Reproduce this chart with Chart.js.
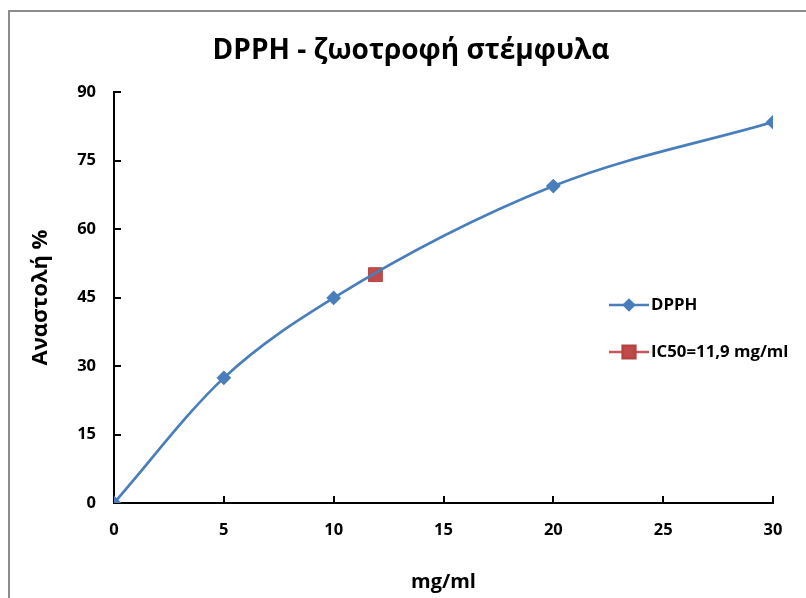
<!DOCTYPE html>
<html>
<head>
<meta charset="utf-8">
<script src="https://cdn.jsdelivr.net/npm/chart.js@4.4.1/dist/chart.umd.min.js"></script>
<style>
  html, body { margin: 0; padding: 0; background: #fff; }
  canvas { display: block; }
</style>
</head>
<body>
<canvas id="dpphChart" width="806" height="598"></canvas>
<script>
const concentrations = [0, 5, 10, 20, 30];
const inhibition = [0, 27.4, 44.9, 69.4, 83.4];
const ic50X = [11.9];
const ic50Y = [50];
const seriesNames = ["DPPH", "IC50=11,9 mg/ml"];
const chartTitle = "DPPH - ζωοτροφή στέμφυλα";

const FONT = "'Open Sans', 'Noto Sans', sans-serif";
const BLUE = "#4a7ebb";
const RED = "#be4b48";

const ctx = document.getElementById("dpphChart").getContext("2d");

/* grey frame round the chart (top and left edges visible) + title */
const framePlugin = {
  id: "frame",
  beforeDraw(chart) {
    const c = chart.ctx;
    c.save();
    c.fillStyle = "#fff";
    c.fillRect(0, 0, chart.width, chart.height);
    c.strokeStyle = "#8c8c8c";
    c.lineWidth = 2;
    c.beginPath();
    c.moveTo(9, chart.height);
    c.lineTo(9, 11);
    c.lineTo(chart.width, 11);
    c.stroke();
    c.fillStyle = "#000";
    c.font = "bold 28px " + FONT;
    c.textAlign = "center";
    c.textBaseline = "middle";
    c.fillText(chartTitle, 411, 51);
    c.restore();
  }
};

/* Excel style tick marks, pointing into the plot */
const innerTicks = {
  id: "innerTicks",
  beforeDatasetsDraw(chart) {
    const c = chart.ctx;
    const { x, y } = chart.scales;
    c.save();
    c.strokeStyle = "#000";
    c.lineWidth = 2;
    c.beginPath();
    y.ticks.forEach(t => {
      const py = Math.round(y.getPixelForValue(t.value));
      c.moveTo(x.left, py);
      c.lineTo(x.left + 7, py);
    });
    x.ticks.forEach(t => {
      const px = Math.round(x.getPixelForValue(t.value));
      c.moveTo(px, y.bottom);
      c.lineTo(px, y.bottom - 7);
    });
    c.stroke();
    c.restore();
  }
};

/* legend inside the plot: line with marker, then the label */
const insideLegend = {
  id: "insideLegend",
  afterDraw(chart) {
    const c = chart.ctx;
    const rows = [305, 352];
    c.save();
    chart.data.datasets.forEach((ds, i) => {
      const yy = rows[i];
      c.strokeStyle = ds.legendLine;
      c.lineWidth = 2.5;
      c.beginPath();
      c.moveTo(609, yy);
      c.lineTo(649, yy);
      c.stroke();
      c.fillStyle = ds.pointBackgroundColor;
      c.strokeStyle = ds.pointBorderColor;
      Chart.helpers.drawPoint(c, {
        pointStyle: ds.pointStyle,
        radius: ds.legendRadius,
        rotation: 0,
        borderWidth: 1
      }, 629, yy);
      c.fillStyle = "#000";
      c.font = "bold 16.8px " + FONT;
      c.textAlign = "left";
      c.textBaseline = "middle";
      c.fillText(ds.label, 651, yy);
    });
    c.restore();
  }
};

new Chart(ctx, {
  type: "scatter",
  data: {
    datasets: [
      {
        label: seriesNames[0],
        data: concentrations.map((v, i) => ({ x: v, y: inhibition[i] })),
        showLine: true,
        borderColor: BLUE,
        backgroundColor: BLUE,
        legendLine: BLUE,
        borderWidth: 2.7,
        cubicInterpolationMode: "monotone",
        pointStyle: "rectRot",
        pointRadius: 5.5,
        legendRadius: 5,
        pointBorderColor: BLUE,
        pointBackgroundColor: BLUE
      },
      {
        label: seriesNames[1],
        data: ic50X.map((v, i) => ({ x: v, y: ic50Y[i] })),
        showLine: false,
        borderColor: RED,
        backgroundColor: RED,
        legendLine: "#c9575a",
        pointStyle: "rect",
        pointRadius: 9.8,
        legendRadius: 9,
        pointBorderColor: "#b24542",
        pointBackgroundColor: RED,
        pointBorderWidth: 1
      }
    ]
  },
  options: {
    responsive: false,
    animation: false,
    layout: { padding: { left: 8, right: 33, top: 92, bottom: 0 } },
    plugins: {
      legend: { display: false },
      tooltip: { enabled: false }
    },
    scales: {
      x: {
        type: "linear",
        min: 0,
        max: 30,
        ticks: {
          stepSize: 5,
          color: "#000",
          padding: 17,
          font: { family: FONT, size: 16.5, weight: "bold" }
        },
        grid: { display: false, drawTicks: false },
        border: { display: true, color: "#000", width: 2 },
        title: {
          display: true,
          text: "mg/ml",
          color: "#000",
          font: { family: FONT, size: 20, weight: "bold" },
          padding: { top: 0, bottom: 4 }
        },
        afterFit(scale) { scale.height = 95; }
      },
      y: {
        min: 0,
        max: 90,
        ticks: {
          stepSize: 15,
          color: "#000",
          padding: 18,
          font: { family: FONT, size: 16.5, weight: "bold" }
        },
        grid: { display: false, drawTicks: false },
        border: { display: true, color: "#000", width: 2 },
        title: {
          display: true,
          text: "Αναστολή %",
          color: "#000",
          font: { family: FONT, size: 22, weight: "bold" },
          padding: { top: 20, bottom: 0 }
        },
        afterFit(scale) { scale.width = 106; }
      }
    }
  },
  plugins: [framePlugin, innerTicks, insideLegend]
});
</script>
</body>
</html>
